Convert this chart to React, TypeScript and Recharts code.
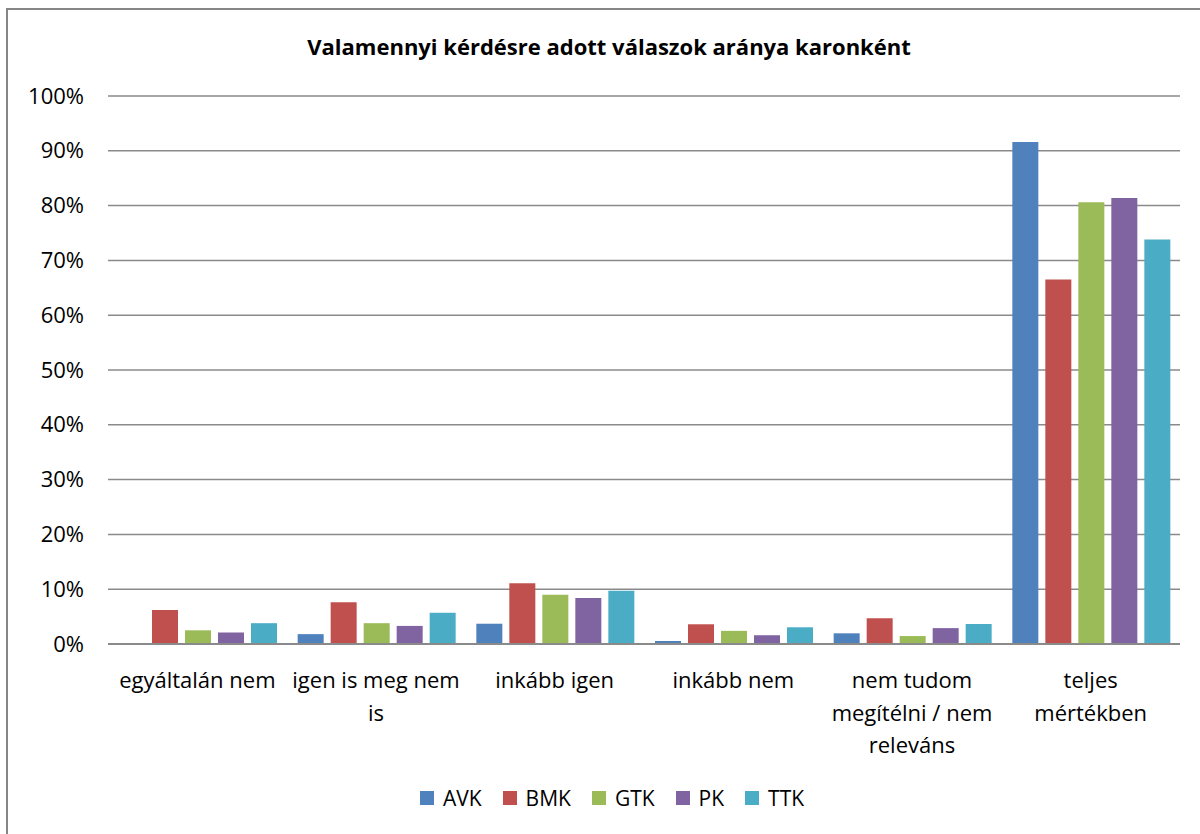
import { BarChart, Bar, XAxis, YAxis, CartesianGrid } from "recharts";

const CATEGORIES = [
  "egyáltalán nem",
  "igen is meg nem\nis",
  "inkább igen",
  "inkább nem",
  "nem tudom\nmegítélni / nem\nreleváns",
  "teljes\nmértékben",
];

const AVK = [0.15, 1.8, 3.7, 0.55, 1.95, 91.6];
const BMK = [6.2, 7.6, 11.1, 3.6, 4.7, 66.5];
const GTK = [2.5, 3.8, 9.0, 2.4, 1.45, 80.6];
const PK = [2.1, 3.3, 8.4, 1.6, 2.9, 81.4];
const TTK = [3.8, 5.7, 9.7, 3.05, 3.65, 73.8];

const Y_TICKS = [0, 10, 20, 30, 40, 50, 60, 70, 80, 90, 100];

const SERIES = [
  { key: "AVK", color: "#4F81BD" },
  { key: "BMK", color: "#C0504D" },
  { key: "GTK", color: "#9BBB59" },
  { key: "PK", color: "#8064A2" },
  { key: "TTK", color: "#4BACC6" },
];

const TITLE = "Valamennyi kérdésre adott válaszok aránya karonként";

const FONT = "'Open Sans', 'Noto Sans', sans-serif";

const data = CATEGORIES.map((name, i) => ({
  name,
  AVK: AVK[i],
  BMK: BMK[i],
  GTK: GTK[i],
  PK: PK[i],
  TTK: TTK[i],
}));

function XTick(props: any) {
  const { x, payload } = props;
  const lines = String(payload.value).split("\n");
  return (
    <text
      x={x}
      y={688}
      textAnchor="middle"
      fontSize={22}
      fontFamily={FONT}
      fill="#000"
    >
      {lines.map((l, i) => (
        <tspan key={i} x={x} dy={i === 0 ? 0 : 32.5}>
          {l}
        </tspan>
      ))}
    </text>
  );
}

function YTick(props: any) {
  const { y, payload } = props;
  return (
    <text
      x={84}
      y={y}
      dy={7.5}
      textAnchor="end"
      fontSize={22}
      fontFamily={FONT}
      fill="#000"
    >
      {payload.value}%
    </text>
  );
}

export default function App() {
  return (
    <div
      style={{
        position: "absolute",
        left: 0,
        top: 0,
        width: 1200,
        height: 834,
        background: "#fff",
        overflow: "hidden",
      }}
    >
      {/* chart frame, only top and left edges show in the crop */}
      <div
        style={{
          position: "absolute",
          left: 6,
          top: 8,
          width: 1210,
          height: 840,
          borderTop: "2px solid #868686",
          borderLeft: "2px solid #868686",
          boxSizing: "border-box",
        }}
      />
      <div
        style={{
          position: "absolute",
          top: 31,
          left: 0,
          width: 1218,
          textAlign: "center",
          fontFamily: FONT,
          fontWeight: 700,
          fontSize: 22,
          color: "#000",
        }}
      >
        {TITLE}
      </div>
      <div style={{ position: "absolute", left: 0, top: 0 }}>
        <BarChart
          width={1200}
          height={834}
          data={data}
          margin={{ top: 96, right: 20, bottom: 160, left: 8 }}
          barCategoryGap={11}
          barGap={7}
        >
          <CartesianGrid
            vertical={false}
            stroke="#8a8a8a"
            strokeWidth={1.5}
          />
          <XAxis
            dataKey="name"
            height={30}
            tickLine={false}
            axisLine={{ stroke: "#8a8a8a", strokeWidth: 2 }}
            tick={<XTick />}
            interval={0}
          />
          <YAxis
            width={100}
            domain={[0, 100]}
            ticks={Y_TICKS}
            axisLine={false}
            tickLine={false}
            tick={<YTick />}
            interval={0}
          />
          {SERIES.map((s) => (
            <Bar
              key={s.key}
              dataKey={s.key}
              fill={s.color}
              isAnimationActive={false}
            />
          ))}
        </BarChart>
      </div>
      <div
        style={{
          position: "absolute",
          top: 784,
          left: 0,
          width: 1224,
          display: "flex",
          justifyContent: "center",
          gap: 21,
          fontFamily: FONT,
          fontSize: 21,
          color: "#000",
        }}
      >
        {SERIES.map((s) => (
          <div
            key={s.key}
            style={{ display: "flex", alignItems: "center", gap: 9 }}
          >
            <span
              style={{
                display: "inline-block",
                width: 14,
                height: 14,
                background: s.color,
              }}
            />
            <span>{s.key}</span>
          </div>
        ))}
      </div>
    </div>
  );
}
